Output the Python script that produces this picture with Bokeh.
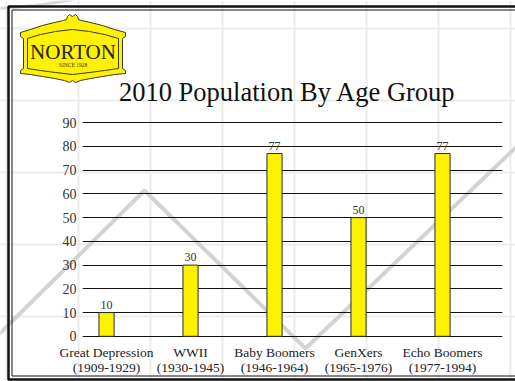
from bokeh.plotting import figure
from bokeh.models import (ColumnDataSource, LabelSet, FixedTicker, GridBox, Range1d, Column)
from bokeh.core.properties import value
from bokeh.embed import file_html
from bokeh.resources import INLINE

# ---- data ----
categories = ["Great Depression\n(1909-1929)", "WWII\n(1930-1945)",
              "Baby Boomers\n(1946-1964)", "GenXers\n(1965-1976)",
              "Echo Boomers\n(1977-1994)"]
values = [10, 30, 77, 50, 77]
y_ticks = [0, 10, 20, 30, 40, 50, 60, 70, 80, 90]
title_text = "2010 Population By Age Group"
logo_name = "NORTON"
logo_since = "SINCE 1928"

FONT = "Liberation Serif"
W, H = 515, 381

# ================= background / decoration layer (pixel space) =================
bg = figure(width=W, height=H, x_range=Range1d(0, W), y_range=Range1d(H, 0),
            x_axis_type=None, y_axis_type=None, output_backend="svg",
            toolbar_location=None, min_border=0)
bg.outline_line_color = None
bg.background_fill_color = "white"
bg.border_fill_color = "white"
bg.xgrid.visible = False
bg.ygrid.visible = False

# light paper grid
vx = [6, 78, 150, 222, 294, 366, 438, 510]
hy = [28, 100, 172, 244, 316]
bg.multi_line(xs=[[x, x] for x in vx], ys=[[0, H] for _ in vx],
              line_color="#ececec", line_width=2)
bg.multi_line(xs=[[0, W] for _ in hy], ys=[[y, y] for y in hy],
              line_color="#ececec", line_width=2)

# big grey zig-zag and arc
bg.line(x=[-12, 144, 305, 532], y=[344, 190, 348, 131],
        line_color="#d3d3d3", line_width=4)
bg.line(x=[-5, 15, 35, 55, 68, 78], y=[8, 7, 5, 2, 0, -3],
        line_color="#dadada", line_width=3)

# double border
bg.line(x=[530, 8, 8, 530], y=[6, 6, 379, 379], line_color="#111111", line_width=2.5)
bg.line(x=[530, 11.5, 11.5, 530], y=[9.5, 9.5, 375.5, 375.5],
        line_color="#111111", line_width=1)

# logo
outer_x = [20, 30, 42, 54, 63, 66, 67, 69, 72, 75, 77, 78, 81, 90, 102, 114, 125,
           125, 122, 122, 125, 125, 114, 102, 90, 80, 75, 72, 69, 64, 54, 42, 30, 20,
           20, 23, 23, 20]
outer_y = [32, 29, 25, 22, 20, 19, 16, 14, 16, 14, 16, 19, 20, 22, 25, 29, 32,
           36, 38, 68, 70, 73, 74, 76, 78, 80, 82, 80, 82, 80, 78, 76, 74, 73,
           70, 68, 38, 36]
bg.patch(x=outer_x, y=outer_y, fill_color="#fff200", line_color="#3a3a2a", line_width=1)
inner_x = [27, 40, 55, 72, 89, 104, 118, 118, 104, 89, 72, 55, 40, 27, 27]
inner_y = [38, 34, 31, 29, 31, 34, 38, 68, 70, 72, 74, 72, 70, 68, 38]
bg.line(x=inner_x, y=inner_y, line_color="#3a3a2a", line_width=1)
bg.text(x=[72.5], y=[51], text=[logo_name], text_font=value(FONT),
        text_font_size="21px", text_color="#222222",
        text_align="center", text_baseline="middle")
bg.text(x=[72.5], y=[64.5], text=[logo_since], text_font=value(FONT),
        text_font_size="5.5px", text_color="#333333",
        text_align="center", text_baseline="middle")

# title
bg.text(x=[287], y=[91], text=[title_text], text_font=value(FONT),
        text_font_size="26.5px", text_color="#111111",
        text_align="center", text_baseline="middle")

# ================= chart layer (transparent, on top) =================
positions = list(range(len(categories)))
src = ColumnDataSource(dict(x=positions, top=values, lab=[str(v) for v in values]))

p = figure(width=W, height=H, x_range=(-0.286, 4.714), y_range=(-0.5, 90.5),
           output_backend="svg", toolbar_location=None,
           min_border_left=82, min_border_right=13,
           min_border_top=121, min_border_bottom=44)
p.background_fill_color = None
p.border_fill_color = None
p.outline_line_color = None

p.vbar(x="x", top="top", bottom=0, width=0.18, source=src,
       fill_color="#fff200", line_color="#2a2a2a", line_width=1)
p.add_layout(LabelSet(x="x", y="top", text="lab", source=src, y_offset=4,
                      text_font=FONT, text_font_size="12px", text_color="#333333",
                      text_align="center", text_baseline="bottom"))

p.xgrid.grid_line_color = None
p.ygrid.ticker = FixedTicker(ticks=y_ticks)
p.ygrid.grid_line_color = "#111111"
p.ygrid.grid_line_width = 1.2

p.yaxis.ticker = FixedTicker(ticks=y_ticks)
p.yaxis.axis_line_color = None
p.yaxis.major_tick_line_color = None
p.yaxis.minor_tick_line_color = None
p.yaxis.major_tick_out = 0
p.yaxis.major_label_standoff = 6
p.yaxis.major_label_text_font = FONT
p.yaxis.major_label_text_font_size = "14px"
p.yaxis.major_label_text_color = "#333333"

p.xaxis.ticker = FixedTicker(ticks=positions)
p.xaxis.major_label_overrides = {i: c for i, c in zip(positions, categories)}
p.xaxis.axis_line_color = None
p.xaxis.major_tick_line_color = None
p.xaxis.minor_tick_line_color = None
p.xaxis.major_tick_out = 0
p.xaxis.major_label_standoff = 7
p.xaxis.major_label_text_font = FONT
p.xaxis.major_label_text_font_size = "13.5px"
p.xaxis.major_label_text_color = "#222222"
p.xaxis.major_label_text_line_height = 1.0

layout = GridBox(children=[(Column(bg), 0, 0), (Column(p), 0, 0)])
open("out.html", "w").write(file_html(layout, INLINE))
